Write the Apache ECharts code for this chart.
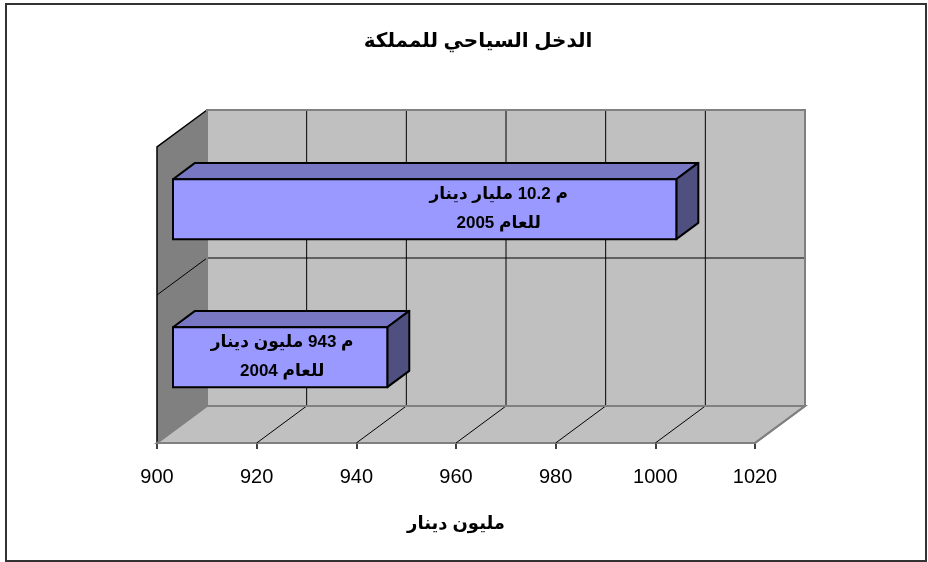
<!DOCTYPE html>
<html>
<head>
<meta charset="utf-8">
<script src="https://cdn.jsdelivr.net/npm/echarts@6/dist/echarts.min.js"></script>
<style>html,body{margin:0;padding:0;background:#fff;}#c{width:928px;height:562px;}</style>
</head>
<body>
<div id="c"></div>
<script>
// ---- data ----
var titleText = 'الدخل السياحي للمملكة';
var axisTitle = 'مليون دينار';
var categories = ['2004', '2005'];
var values = [943, 1001];
var barLabels = ['م 943 مليون دينار\nللعام 2004', 'م 10.2 مليار دينار\nللعام 2005'];
var xTicks = [900, 920, 940, 960, 980, 1000, 1020];

// ---- styling / geometry (not data) ----
var FONT = '"Liberation Sans", Arial, "DejaVu Sans", sans-serif';
var WALL_DX = 50, WALL_DY = -37;        // depth of the 3D box
var BAR_F = 0.32, BAR_D = 0.44;          // bar front depth fraction, bar depth fraction
var labelShift = {'2005': 74, '2004': 2};

var chart = echarts.init(document.getElementById('c'));

function wallsRender(params, api) {
  var cs = params.coordSys;
  var L = cs.x, T = cs.y, R = cs.x + cs.width, B = cs.y + cs.height;
  var dx = WALL_DX, dy = WALL_DY;
  var ch = [];
  ch.push({type: 'rect', shape: {x: L + dx, y: T + dy, width: cs.width, height: cs.height},
    style: {fill: '#c0c0c0', stroke: '#808080', lineWidth: 2}});
  ch.push({type: 'polygon', shape: {points: [[L, T], [L + dx, T + dy], [L + dx, B + dy], [L, B]]},
    style: {fill: '#808080', stroke: null}});
  ch.push({type: 'polyline', shape: {points: [[L, B], [L, T], [L + dx, T + dy]]},
    style: {fill: null, stroke: '#000', lineWidth: 1.5}});
  ch.push({type: 'polygon', shape: {points: [[L, B], [L + dx, B + dy], [R + dx, B + dy], [R, B]]},
    style: {fill: '#c0c0c0', stroke: '#808080', lineWidth: 2}});
  for (var i = 1; i < xTicks.length - 1; i++) {
    var px = api.coord([xTicks[i], 0])[0];
    ch.push({type: 'line', shape: {x1: px + dx, y1: T + dy, x2: px + dx, y2: B + dy},
      style: {stroke: '#000', lineWidth: 1}});
    ch.push({type: 'line', shape: {x1: px, y1: B, x2: px + dx, y2: B + dy},
      style: {stroke: '#000', lineWidth: 1}});
  }
  var band = api.size([0, 1])[1];
  for (var k = 1; k < categories.length; k++) {
    var yc = api.coord([xTicks[0], k])[1];
    var yb = yc + band / 2;
    ch.push({type: 'line', shape: {x1: L + dx, y1: yb + dy, x2: R + dx, y2: yb + dy},
      style: {stroke: '#000', lineWidth: 1}});
    ch.push({type: 'line', shape: {x1: L, y1: yb, x2: L + dx, y2: yb + dy},
      style: {stroke: '#000', lineWidth: 1}});
  }
  ch.push({type: 'polyline', shape: {points: [[L + dx, B + dy], [L + dx, T + dy], [R + dx, T + dy], [R + dx, B + dy], [R, B]]},
    style: {fill: null, stroke: '#808080', lineWidth: 2}});
  ch.push({type: 'line', shape: {x1: L + dx, y1: B + dy, x2: R + dx, y2: B + dy},
    style: {stroke: '#808080', lineWidth: 2}});
  return {type: 'group', children: ch};
}

function barRender(params, api) {
  var cat = api.value(1);
  var catName = categories[cat];
  var start = api.coord([xTicks[0], cat]);
  var end = api.coord([api.value(0), cat]);
  var band = api.size([0, 1])[1];
  var h = band * 0.405;
  var fx = WALL_DX * BAR_F, fy = WALL_DY * BAR_F;
  var ddx = WALL_DX * BAR_D, ddy = WALL_DY * BAR_D;
  var x0 = start[0] + fx, x1 = end[0] + fx;
  var yc = start[1] + fy;
  var top = yc - h / 2, bot = yc + h / 2;
  var lw = 2;
  var sh = labelShift[catName] || 0;
  return {type: 'group', children: [
    {type: 'polygon', shape: {points: [[x0, top], [x1, top], [x1 + ddx, top + ddy], [x0 + ddx, top + ddy]]},
      style: {fill: '#7777c4', stroke: '#000', lineWidth: lw, lineJoin: 'round'}},
    {type: 'polygon', shape: {points: [[x1, top], [x1 + ddx, top + ddy], [x1 + ddx, bot + ddy], [x1, bot]]},
      style: {fill: '#4f4f80', stroke: '#000', lineWidth: lw, lineJoin: 'round'}},
    {type: 'rect', shape: {x: x0, y: top, width: x1 - x0, height: bot - top},
      style: {fill: '#9999ff', stroke: '#000', lineWidth: lw}},
    {type: 'text', style: {text: barLabels[params.dataIndex], x: (x0 + x1) / 2 + sh, y: yc,
      align: 'center', verticalAlign: 'middle', fontSize: 17, fontWeight: 'bold', fontFamily: FONT,
      lineHeight: 29, fill: '#000'}}
  ]};
}

var barData = values.map(function (v, i) { return [v, i]; });

chart.setOption({
  animation: false,
  backgroundColor: '#fff',
  title: {text: titleText, left: 473, top: 26, textAlign: 'center',
    textStyle: {fontSize: 20, fontWeight: 'bold', fontFamily: FONT, color: '#000'}},
  grid: {left: 157, right: 173, top: 147, bottom: 119},
  xAxis: {type: 'value', min: 900, max: 1020, interval: 20,
    axisLine: {show: true, onZero: false, lineStyle: {color: '#404040', width: 2}},
    axisTick: {show: true, length: 6, lineStyle: {color: '#000', width: 1.5}},
    splitLine: {show: false},
    axisLabel: {fontSize: 20, color: '#000', fontFamily: FONT, margin: 24,
      formatter: function (v) { return String(v); }},
    name: axisTitle, nameLocation: 'middle', nameGap: 72,
    nameTextStyle: {fontSize: 18, fontWeight: 'bold', fontFamily: FONT, color: '#000'}},
  yAxis: {type: 'category', data: categories, show: false},
  graphic: [{type: 'rect', shape: {x: 6, y: 4, width: 920, height: 557},
    style: {fill: null, stroke: '#333', lineWidth: 2}, z: 100}],
  series: [
    {type: 'custom', name: 'walls', renderItem: wallsRender, data: [[xTicks[0], 0]], z: 1, silent: true, clip: false},
    {type: 'custom', name: 'bars', renderItem: barRender, data: barData, z: 5, clip: false,
      encode: {x: 0, y: 1}}
  ]
});
</script>
</body>
</html>
